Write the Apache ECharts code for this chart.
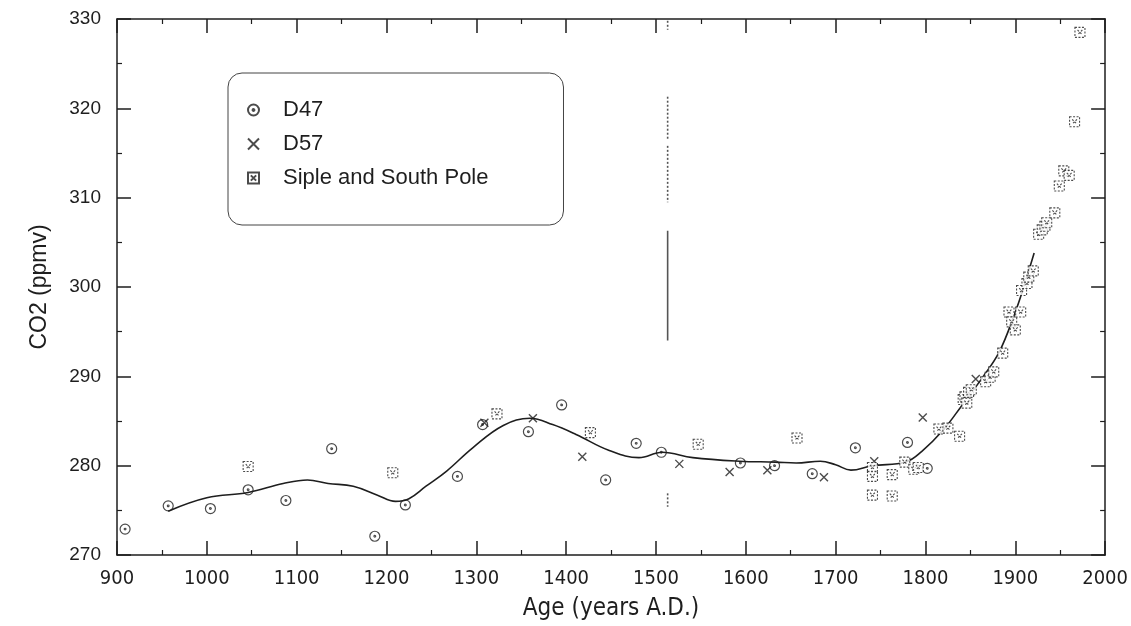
<!DOCTYPE html>
<html>
<head>
<meta charset="utf-8">
<script src="https://cdn.jsdelivr.net/npm/echarts@6/dist/echarts.min.js"></script>
<style>
html,body{margin:0;padding:0;background:#fff;}
#chart{width:1131px;height:626px;}
</style>
</head>
<body>
<div id="chart"></div>
<script>
// ---- data ----
const d47Years  = [909, 957, 1004, 1046, 1088, 1139, 1187, 1221, 1279, 1307, 1358, 1395, 1444, 1478, 1506, 1594, 1632, 1674, 1722, 1780, 1802];
const d47Values = [272.9, 275.5, 275.2, 277.3, 276.1, 281.9, 272.1, 275.6, 278.8, 284.6, 283.8, 286.8, 278.4, 282.5, 281.5, 280.3, 280.0, 279.1, 282.0, 282.6, 279.7];

const d57Years  = [1309, 1363, 1418, 1526, 1582, 1624, 1687, 1743, 1797, 1856];
const d57Values = [284.8, 285.3, 281.0, 280.2, 279.3, 279.5, 278.7, 280.5, 285.4, 289.7];

const sipleYears  = [1046, 1207, 1323, 1427, 1547, 1657, 1741, 1741, 1741, 1763, 1763, 1777, 1787, 1792, 1815, 1825, 1838, 1842, 1844, 1846, 1848, 1851, 1867, 1872, 1876, 1886, 1893, 1896, 1900, 1906, 1907, 1913, 1915, 1920, 1926, 1930, 1933, 1935, 1944, 1949, 1954, 1960, 1966, 1972];
const sipleValues = [279.9, 279.2, 285.8, 283.7, 282.4, 283.1, 279.8, 278.8, 276.7, 279.0, 276.6, 280.4, 279.6, 279.8, 284.1, 284.2, 283.3, 287.4, 287.7, 287.0, 288.2, 288.5, 289.4, 289.9, 290.5, 292.6, 297.2, 296.1, 295.2, 297.2, 299.6, 300.4, 301.1, 301.8, 305.9, 306.4, 306.8, 307.2, 308.3, 311.3, 313.0, 312.5, 318.5, 328.5];

const fitYears  = [957, 1000, 1046, 1085, 1112, 1135, 1163, 1190, 1210, 1225, 1244, 1267, 1296, 1330, 1360, 1385, 1411, 1448, 1481, 1507, 1541, 1593, 1633, 1656, 1683, 1700, 1717, 1741, 1778, 1796, 1819, 1841, 1863, 1882, 1900, 1910, 1921];
const fitValues = [274.9, 276.4, 277.0, 278.0, 278.4, 278.0, 277.7, 276.7, 276.0, 276.3, 277.7, 279.4, 282.0, 284.5, 285.3, 284.6, 283.5, 281.7, 280.9, 281.5, 280.9, 280.5, 280.4, 280.3, 280.5, 280.1, 279.5, 280.0, 280.4, 281.6, 283.9, 286.8, 289.8, 292.7, 297.2, 300.2, 303.8];

// scan artefact: a faint vertical streak at this year (value ranges)
const streakYear = 1513;
const streakRanges = [[329.8, 328.8], [321.3, 316.5], [315.8, 309.5], [306.3, 294.0], [276.9, 275.4]];

const xTicks = {min: 900, max: 2000, step: 100};
const yTicks = {min: 270, max: 330, step: 10};

// ---- chart ----
const pairs = (xs, ys) => xs.map((x, i) => [x, ys[i]]);
const ink = '#1e1e1e';

const symD47 = 'path://M10,0A10,10 0 1 1 9.99,0Z M10,8.3A1.7,1.7 0 1 1 9.99,8.3Z';
const symD57 = 'path://M0,0L10,10M10,0L0,10';
const symSiple = 'path://M0,0L10,0L10,10L0,10Z M2.6,2.6L7.4,7.4 M7.4,2.6L2.6,7.4';

const streakSeries = streakRanges.map((r, i) => ({
  name: 'streak' + i,
  type: 'line',
  data: [[streakYear, r[0]], [streakYear, r[1]]],
  symbol: 'none',
  silent: true,
  z: 1,
  lineStyle: {color: '#555', width: 1.6, type: i === 3 ? 'solid' : [2, 2]}
}));

const axisCommonX = {
  type: 'value', min: xTicks.min, max: xTicks.max, interval: xTicks.step,
  splitLine: {show: false},
  axisLine: {show: true, onZero: false, lineStyle: {color: ink, width: 1.5}},
  axisTick: {show: true, inside: true, length: 14, lineStyle: {color: ink, width: 1.5}},
  minorTick: {show: true, splitNumber: 2, length: 5, lineStyle: {color: ink, width: 1.2}}
};
const axisCommonY = {
  type: 'value', min: yTicks.min, max: yTicks.max, interval: yTicks.step,
  splitLine: {show: false},
  axisLine: {show: true, onZero: false, lineStyle: {color: ink, width: 1.5}},
  axisTick: {show: true, inside: true, length: 14, lineStyle: {color: ink, width: 1.5}},
  minorTick: {show: true, splitNumber: 2, length: 5, lineStyle: {color: ink, width: 1.2}}
};

const chart = echarts.init(document.getElementById('chart'), null, {renderer: 'canvas'});
chart.setOption({
  animation: false,
  backgroundColor: '#fff',
  grid: {left: 117, right: 22, top: 19, bottom: 71, containLabel: false},
  xAxis: [
    Object.assign({}, axisCommonX, {
      position: 'bottom',
      name: 'Age (years A.D.)', nameLocation: 'middle', nameGap: 42,
      nameTextStyle: {fontFamily: '"Liberation Sans Narrow", "DejaVu Sans Condensed", "Liberation Sans", sans-serif', fontSize: 24, color: ink},
      axisLabel: {show: true, margin: 14, formatter: v => String(v), fontFamily: '"Liberation Sans Narrow", "DejaVu Sans Condensed", "Liberation Sans", sans-serif', fontSize: 20, color: ink}
    }),
    Object.assign({}, axisCommonX, {position: 'top', axisLabel: {show: false}})
  ],
  yAxis: [
    Object.assign({}, axisCommonY, {
      position: 'left',
      name: 'CO2 (ppmv)', nameLocation: 'middle', nameGap: 66, nameRotate: 90,
      nameTextStyle: {fontFamily: '"Liberation Sans", Arial, sans-serif', fontSize: 23, color: ink},
      axisLabel: {show: true, margin: 16, formatter: v => String(v), fontFamily: '"Liberation Sans", Arial, sans-serif', fontSize: 19, color: ink}
    }),
    Object.assign({}, axisCommonY, {position: 'right', axisLabel: {show: false}})
  ],
  legend: {
    data: ['D47', 'D57', 'Siple and South Pole'],
    orient: 'vertical',
    left: 228, top: 73,
    padding: [25, 75, 35, 19],
    itemGap: 10,
    itemWidth: 11, itemHeight: 11,
    borderColor: '#444', borderWidth: 1, borderRadius: 14,
    backgroundColor: '#fff',
    textStyle: {fontFamily: '"Liberation Sans", Arial, sans-serif', fontSize: 22, color: ink, lineHeight: 24, padding: [0, 0, 0, 19]}
  },
  series: [
    ...streakSeries,
    {
      name: 'fit', type: 'line', data: pairs(fitYears, fitValues),
      smooth: 0.4, symbol: 'none', silent: true, z: 2,
      lineStyle: {color: ink, width: 1.6}
    },
    {
      name: 'D47', type: 'scatter', data: pairs(d47Years, d47Values),
      symbol: symD47, symbolSize: 10, z: 3,
      itemStyle: {color: 'rgba(255,255,255,0)', borderColor: ink, borderWidth: 1.2}
    },
    {
      name: 'D57', type: 'scatter', data: pairs(d57Years, d57Values),
      symbol: symD57, symbolSize: 8, z: 3,
      itemStyle: {color: 'rgba(255,255,255,0)', borderColor: ink, borderWidth: 1.4}
    },
    {
      name: 'Siple and South Pole', type: 'scatter', data: pairs(sipleYears, sipleValues),
      symbol: symSiple, symbolSize: 10, z: 3,
      itemStyle: {color: '#fff', borderColor: ink, borderWidth: 1.1, borderType: [2, 1.5]}
    }
  ]
});
</script>
</body>
</html>
